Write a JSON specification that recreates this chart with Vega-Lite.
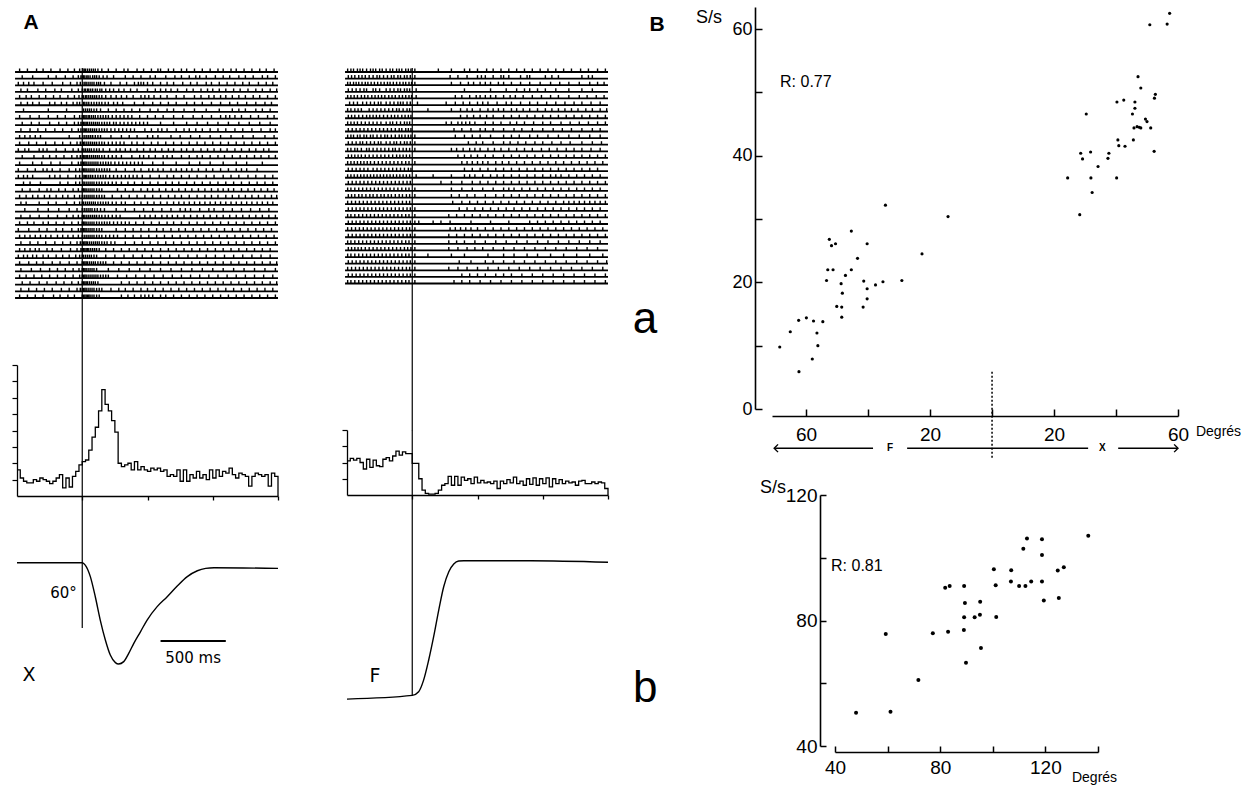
{
"$schema": "https://vega.github.io/schema/vega-lite/v6.json",
"width": 1242,
"height": 789,
"autosize": {"type": "none"},
"padding": 0,
"background": "white",
"config": {
  "view": {"stroke": null},
  "font": "Liberation Sans",
  "axis": {"grid": false, "domainColor": "black", "tickColor": "black", "labelColor": "black", "labelFont": "Liberation Sans", "labelFlush": false, "labelOverlap": false}
},
"data": {"values": [{}]},
"datasets": {
  "rasterX": [
    {"trial":1,"t":[-480,-420,-350,-300,-240,-170,-110,-60,-20,5,15,25,40,55,70,85,100,120,150,200,260,320,350,420,470,530,580,600,660,700,760,800,860,920,980,1040,1080,1140,1180,1240,1300,1360,1410,1470]},
    {"trial":2,"t":[-460,-380,-260,-200,-130,-70,-30,-10,0,10,20,35,45,60,80,95,110,130,160,190,240,330,390,450,520,560,640,710,760,820,870,900,950,1020,1080,1130,1200,1250,1310,1380,1420,1480]},
    {"trial":3,"t":[-490,-450,-410,-370,-300,-230,-150,-90,-40,-15,5,20,30,45,60,75,90,110,125,140,170,220,290,340,400,430,450,470,500,540,600,650,700,770,830,880,950,990,1050,1110,1170,1230,1280,1350,1410,1460]},
    {"trial":4,"t":[-470,-420,-340,-280,-210,-160,-80,-30,0,15,25,40,50,65,80,100,115,135,150,180,210,240,280,320,370,420,500,560,600,640,680,730,800,850,910,960,1000,1050,1100,1160,1210,1270,1330,1380,1440,1490]},
    {"trial":5,"t":[-480,-430,-390,-330,-280,-220,-170,-110,-60,-25,0,10,25,35,50,65,80,95,110,130,150,180,220,260,300,340,390,450,480,510,550,600,650,720,780,860,910,970,1010,1060,1100,1150,1200,1250,1310,1360,1420,1480]},
    {"trial":6,"t":[-470,-420,-380,-330,-250,-210,-160,-120,-70,-40,-20,10,20,35,50,70,90,110,130,150,175,200,240,270,310,400,470,540,600,660,720,800,860,920,990,1060,1130,1190,1260,1330,1400,1450]},
    {"trial":7,"t":[-450,-260,-120,10,25,40,55,70,90,110,140,200,260,320,380,440,520,580,650,700,780,860,950,1050,1150,1200,1250,1330,1380,1440]},
    {"trial":8,"t":[-480,-400,-330,-260,-190,-130,-60,-20,0,10,20,30,45,55,70,85,100,120,140,160,180,200,230,260,290,320,350,380,440,500,560,620,700,770,850,920,990,1060,1100,1130,1170,1220,1290,1350,1420,1470]},
    {"trial":9,"t":[-460,-390,-330,-250,-180,-120,-60,-30,-10,0,10,20,30,40,55,70,85,100,115,130,150,170,190,210,240,260,290,320,350,380,410,440,470,500,600,700,800,880,960,1040,1120,1200,1280,1360,1440]},
    {"trial":10,"t":[-470,-400,-340,-280,-210,-150,-80,-30,-10,5,15,25,35,50,65,80,95,110,130,150,170,190,220,250,280,310,340,370,400,480,530,580,610,650,720,780,820,870,920,980,1040,1100,1170,1230,1300,1370,1440,1480]},
    {"trial":11,"t":[-480,-440,-400,-360,-320,-100,-20,5,20,35,50,65,80,100,120,140,220,300,360,420,500,540,580,680,750,830,900,980,1060,1140,1230,1310,1400,1470]},
    {"trial":12,"t":[-480,-410,-350,-280,-210,-150,-90,-40,-15,0,10,20,35,50,65,80,95,110,130,150,170,200,230,260,290,320,380,420,470,530,580,640,700,760,820,880,940,1000,1060,1120,1180,1240,1300,1360,1420,1480]},
    {"trial":13,"t":[-490,-440,-410,-330,-300,-270,-200,-130,-70,-30,0,12,25,40,55,70,90,110,130,160,210,260,290,330,370,420,470,520,560,610,660,700,760,800,850,910,960,1010,1060,1110,1170,1220,1280,1330,1390,1430]},
    {"trial":14,"t":[-460,-370,-300,-250,-200,-140,-80,-40,-15,0,10,20,30,40,55,70,85,100,115,130,150,170,200,230,260,300,380,440,470,510,560,620,650,690,760,820,880,920,980,1040,1090,1150,1210,1260,1320,1370,1430,1480]},
    {"trial":15,"t":[-480,-380,-310,-240,-170,-80,-30,-10,0,10,20,30,45,60,75,90,105,120,140,160,180,200,220,250,280,310,340,370,400,430,460,540,620,720,820,900,980,1080,1180,1260,1380]},
    {"trial":16,"t":[-490,-420,-360,-300,-270,-230,-170,-100,-50,-20,0,10,20,30,45,60,75,90,110,130,150,170,190,210,260,330,400,450,510,540,580,620,680,720,760,800,840,890,950,1000,1060,1120,1180,1220,1260,1340]},
    {"trial":17,"t":[-490,-450,-420,-380,-250,-210,-170,-110,-50,-20,5,15,25,35,50,65,80,100,120,140,160,180,210,240,270,300,330,360,390,420,460,520,590,650,700,760,820,880,950,1010,1080,1140,1200,1270,1330,1400,1460]},
    {"trial":18,"t":[-450,-400,-320,-170,-110,-50,-20,5,15,30,45,60,75,90,110,130,150,175,200,230,260,300,350,400,460,520,580,640,690,740,800,860,920,980,1040,1100,1160,1220,1280,1340,1400,1460]},
    {"trial":19,"t":[-460,-400,-330,-270,-240,-180,-130,-70,-30,0,10,20,30,45,60,75,90,110,130,150,270,330,390,450,500,540,590,640,690,740,790,840,890,940,990,1040,1080,1120,1160,1220,1270,1320,1370,1420,1470]},
    {"trial":20,"t":[-480,-430,-380,-340,-290,-250,-200,-150,-110,-60,-20,0,15,30,45,60,75,90,110,130,150,170,230,300,360,420,480,540,600,660,710,760,820,880,940,990,1040,1100,1150,1200,1250,1300,1350,1400,1450,1490]},
    {"trial":21,"t":[-470,-430,-330,-260,-200,-120,-60,-20,0,10,25,40,55,70,85,100,120,140,160,180,200,230,260,300,330,400,450,500,550,600,650,700,740,780,820,860,900,940,980,1020,1060,1100,1140,1180,1220,1260,1300,1340,1380,1420,1460]},
    {"trial":22,"t":[-440,-340,-260,-180,-100,-40,0,15,30,45,60,75,95,115,140,170,260,330,400,470,540,610,680,750,790,830,900,970,1010,1080,1150,1220,1290,1360,1430]},
    {"trial":23,"t":[-470,-400,-330,-260,-190,-120,-70,-30,0,10,20,35,50,65,80,95,110,130,150,175,200,230,260,290,440,480,520,560,610,650,690,730,780,830,880,930,980,1030,1080,1130,1180,1230,1280,1330,1380,1430,1480]},
    {"trial":24,"t":[-480,-420,-370,-300,-260,-200,-140,-80,-30,0,10,20,30,45,60,75,90,110,130,150,170,190,210,240,270,300,330,360,410,470,530,590,650,700,760,820,880,940,1000,1060,1120,1180,1240,1300,1360,1420,1480]},
    {"trial":25,"t":[-490,-410,-330,-270,-200,-150,-80,-30,-10,0,10,20,30,45,60,75,90,110,130,150,260,330,390,450,510,570,620,680,740,790,850,910,970,1030,1090,1150,1210,1270,1330,1390,1450]},
    {"trial":26,"t":[-480,-440,-400,-360,-320,-280,-240,-190,-150,-110,-70,-30,0,15,30,45,60,75,90,110,130,150,180,210,240,270,330,390,450,510,570,630,690,750,810,870,930,990,1050,1110,1170,1230,1290,1350,1410,1470]},
    {"trial":27,"t":[-470,-400,-340,-280,-210,-150,-90,-40,-15,0,10,20,30,40,55,70,85,100,115,130,150,170,190,220,250,330,400,460,520,580,640,700,760,820,880,940,1000,1060,1120,1180,1240,1300,1360,1420,1480]},
    {"trial":28,"t":[-480,-440,-400,-360,-330,-270,-230,-160,-90,-40,-10,0,10,20,30,40,50,65,80,95,110,130,180,240,300,360,420,480,540,600,660,720,780,840,900,960,1020,1080,1140,1200,1260,1320,1380,1440]},
    {"trial":29,"t":[-490,-450,-420,-380,-350,-300,-260,-200,-150,-100,-50,-20,0,10,25,40,55,70,90,110,180,250,320,390,460,530,600,670,740,810,880,950,1020,1090,1160,1230,1300,1370,1440]},
    {"trial":30,"t":[-480,-410,-350,-300,-230,-170,-100,-40,0,10,20,30,40,55,70,85,100,120,140,160,180,240,300,360,420,480,540,600,660,720,780,840,900,960,1020,1080,1140,1200,1260,1320,1380,1440,1490]},
    {"trial":31,"t":[-470,-390,-320,-250,-190,-130,-70,-25,0,10,20,30,45,60,75,90,110,200,280,360,440,520,600,680,760,840,920,1000,1080,1160,1240,1320,1400,1480]},
    {"trial":32,"t":[-480,-430,-370,-310,-250,-190,-130,-70,-20,0,10,20,30,45,60,75,90,105,120,140,160,180,200,270,340,410,480,550,620,690,760,830,900,970,1040,1110,1180,1250,1320,1390,1460]},
    {"trial":33,"t":[-460,-400,-330,-270,-200,-140,-80,-30,0,10,20,30,40,55,70,85,100,120,300,360,420,480,540,600,660,720,780,840,900,960,1020,1080,1140,1200,1260,1320,1380,1440,1490]},
    {"trial":34,"t":[-470,-410,-350,-290,-230,-160,-100,-40,-15,0,10,20,30,45,60,75,90,110,130,150,220,280,330,390,450,500,560,620,680,740,800,860,920,980,1040,1100,1160,1220,1280,1340,1400,1460]},
    {"trial":35,"t":[-480,-420,-360,-300,-220,-170,-110,-60,0,10,20,30,40,50,60,75,90,110,130,300,350,400,450,480,510,540,600,640,700,760,820,880,940,1000,1060,1120,1180,1240,1300,1360,1420,1480]}
  ],
  "rasterF": [
    {"trial":1,"t":[-495,-470,-450,-420,-400,-380,-350,-320,-300,-280,-250,-230,-200,-170,-150,-120,-100,-80,-50,-30,-10,20,200,300,400,440,500,570,620,680,740,800,860,920,980,1040,1100,1160,1220,1290,1350,1420,1480]},
    {"trial":2,"t":[-490,-465,-440,-410,-385,-360,-330,-300,-270,-250,-220,-190,-160,-140,-110,-90,-60,-40,-15,20,290,350,420,500,530,560,620,680,700,740,830,880,900,1020,1070,1120,1300,1350,1380]},
    {"trial":3,"t":[-495,-475,-450,-430,-410,-385,-360,-340,-315,-290,-265,-240,-215,-190,-170,-145,-120,-95,-70,-50,-25,-5,20,300,370,430,470,520,560,600,660,700,760,830,900,980,1060,1130,1200,1280,1360,1420,1470]},
    {"trial":4,"t":[-490,-460,-430,-400,-370,-350,-300,-280,-250,-200,-170,-140,-110,-90,-60,-40,-20,30,400,600,720,800,860,900,960,1020,1100,1200,1300,1380]},
    {"trial":5,"t":[-495,-470,-445,-420,-390,-365,-340,-310,-285,-260,-235,-210,-180,-155,-130,-100,-75,-50,-25,-5,30,330,380,440,490,520,560,600,640,700,750,790,850,920,990,1060,1120,1200,1280,1340,1410,1470]},
    {"trial":6,"t":[-480,-450,-420,-380,-350,-320,-290,-260,-240,-200,-170,-140,-110,-90,-70,-40,-15,40,260,330,390,440,500,540,580,650,720,760,830,900,960,1030,1100,1170,1240,1300,1370,1440]},
    {"trial":7,"t":[-495,-470,-440,-415,-390,-330,-300,-270,-240,-210,-180,-150,-120,-100,-70,-40,-20,120,300,370,420,460,520,580,620,660,700,760,800,850,900,960,1020,1070,1120,1170,1220,1270,1330,1380,1440,1490]},
    {"trial":8,"t":[-490,-465,-440,-410,-380,-350,-325,-300,-275,-250,-220,-190,-160,-135,-110,-80,-55,-30,-10,370,420,470,520,570,620,700,760,820,880,940,1000,1060,1120,1180,1240,1300,1360,1420,1480]},
    {"trial":9,"t":[-495,-470,-445,-420,-390,-360,-330,-300,-270,-240,-200,-170,-150,-120,-90,-60,-40,-20,260,300,350,380,410,440,480,560,620,680,750,800,860,930,1000,1060,1140,1210,1280,1350,1420,1480]},
    {"trial":10,"t":[-490,-460,-430,-400,-370,-340,-310,-280,-250,-220,-190,-160,-130,-100,-80,-50,-30,-10,320,380,450,520,560,620,700,780,840,920,1000,1080,1150,1220,1300,1380,1440]},
    {"trial":11,"t":[-495,-470,-450,-420,-400,-370,-350,-320,-300,-270,-240,-210,-190,-160,-130,-100,-80,-55,-30,-10,20,330,400,460,520,600,700,760,820,900,960,1040,1120,1200,1280,1360,1440]},
    {"trial":12,"t":[-490,-460,-430,-400,-380,-350,-320,-290,-260,-240,-200,-170,-140,-120,-90,-60,-40,-15,20,430,490,540,620,700,750,810,870,940,1000,1070,1140,1210,1300,1380,1450]},
    {"trial":13,"t":[-495,-470,-440,-420,-390,-350,-330,-300,-270,-240,-210,-180,-150,-130,-100,-70,-45,-20,20,300,340,390,440,480,520,580,630,680,740,800,860,920,990,1050,1110,1180,1240,1300,1370,1440]},
    {"trial":14,"t":[-490,-465,-440,-415,-390,-360,-330,-300,-270,-240,-210,-180,-150,-120,-95,-70,-45,-20,350,400,450,500,560,620,700,760,820,880,940,1000,1060,1120,1180,1240,1300,1360,1420,1480]},
    {"trial":15,"t":[-495,-470,-445,-420,-395,-370,-345,-320,-290,-260,-230,-200,-170,-140,-110,-80,-50,-25,20,380,420,460,500,540,580,640,690,740,800,860,920,980,1040,1100,1160,1220,1280,1340,1400,1460]},
    {"trial":16,"t":[-490,-460,-430,-400,-370,-340,-300,-270,-240,-210,-180,-150,-120,-90,-60,-30,-10,400,460,520,580,640,700,760,820,880,940,1000,1060,1120,1180,1240,1300,1360,1420]},
    {"trial":17,"t":[-495,-470,-445,-420,-395,-370,-345,-320,-295,-270,-245,-220,-195,-170,-145,-120,-95,-70,-45,-20,30,160,300,400,440,480,540,600,650,700,760,820,880,940,1000,1060,1100,1140,1200,1260,1320,1380,1440]},
    {"trial":18,"t":[-490,-460,-430,-400,-370,-340,-310,-280,-250,-220,-190,-160,-130,-100,-70,-40,-15,220,300,380,460,520,580,640,700,760,820,880,940,1000,1060,1120,1180,1240,1300,1360,1420,1480]},
    {"trial":19,"t":[-495,-470,-440,-410,-380,-350,-320,-290,-260,-230,-200,-170,-140,-110,-80,-50,-25,20,300,380,460,540,620,700,740,780,840,900,960,1020,1080,1140,1200,1260,1320,1380,1440]},
    {"trial":20,"t":[-490,-465,-440,-410,-385,-355,-325,-300,-270,-240,-215,-185,-160,-130,-100,-75,-45,-20,20,300,360,420,480,560,640,700,760,820,880,940,1000,1060,1120,1180,1240,1300,1360,1420,1480]},
    {"trial":21,"t":[-495,-465,-435,-405,-375,-345,-315,-285,-255,-225,-195,-165,-135,-105,-75,-45,-20,310,380,440,500,560,620,680,740,800,860,920,980,1040,1100,1160,1200,1240,1280,1320,1360,1400,1440,1480]},
    {"trial":22,"t":[-490,-460,-430,-400,-370,-340,-310,-280,-250,-220,-190,-160,-130,-100,-70,-40,-15,20,360,420,480,540,600,660,720,780,840,900,960,1020,1080,1140,1200,1260,1320,1380,1440]},
    {"trial":23,"t":[-495,-470,-440,-410,-380,-350,-320,-290,-260,-230,-200,-170,-140,-110,-80,-50,-25,20,280,340,400,460,520,580,640,700,760,820,880,940,1000,1060,1120,1180,1240,1300,1360,1420,1480]},
    {"trial":24,"t":[-490,-460,-430,-400,-370,-340,-310,-280,-250,-220,-190,-160,-130,-100,-70,-40,-15,20,50,160,220,290,450,600,740,900,960,1020,1080,1140,1200,1260,1320,1380,1440]},
    {"trial":25,"t":[-495,-465,-435,-405,-375,-345,-315,-285,-255,-225,-195,-165,-135,-105,-75,-45,-20,20,290,330,370,410,450,500,560,620,680,740,800,860,920,980,1040,1100,1160,1220,1280,1340,1400,1460]},
    {"trial":26,"t":[-490,-460,-430,-400,-370,-340,-310,-280,-250,-220,-190,-160,-130,-100,-70,-40,-15,20,280,340,400,460,520,580,640,700,760,820,880,940,1000,1060,1120,1180,1240,1300,1360,1420,1480]},
    {"trial":27,"t":[-495,-470,-440,-410,-380,-350,-320,-290,-260,-230,-200,-170,-140,-110,-80,-50,-25,20,280,340,400,480,560,640,720,800,880,960,1040,1120,1200,1280,1360,1440]},
    {"trial":28,"t":[-490,-465,-440,-415,-390,-360,-330,-300,-270,-240,-210,-180,-150,-120,-90,-60,-35,-10,20,280,350,420,480,540,620,700,780,860,940,1020,1100,1180,1260,1340,1420]},
    {"trial":29,"t":[-495,-470,-440,-410,-380,-350,-320,-290,-260,-230,-200,-170,-140,-110,-80,-50,-25,20,120,300,400,580,700,780,880,960,1060,1160,1260,1360,1460]},
    {"trial":30,"t":[-490,-460,-430,-400,-370,-340,-310,-280,-250,-220,-190,-160,-130,-100,-70,-40,-15,20,360,450,560,620,700,780,860,940,1020,1100,1180,1260,1340,1420,1490]},
    {"trial":31,"t":[-495,-465,-435,-405,-375,-345,-315,-285,-255,-225,-195,-165,-135,-105,-75,-45,-20,20,280,350,420,500,580,660,740,820,900,980,1060,1140,1220,1300,1380,1460]},
    {"trial":32,"t":[-490,-460,-430,-400,-370,-340,-310,-280,-250,-220,-190,-160,-130,-100,-70,-40,-15,20,380,440,500,560,640,700,760,840,920,1000,1080,1160,1240,1320,1400,1480]},
    {"trial":33,"t":[-495,-470,-440,-410,-380,-350,-320,-290,-260,-230,-200,-170,-140,-110,-80,-50,-25,20,320,380,440,520,600,680,760,840,920,1000,1080,1160,1240,1320,1400,1480]}
  ],
  "histX": [
    {"t":-500,"v":1.6},{"t":-475,"v":1.1},{"t":-450,"v":0.9},{"t":-425,"v":0.8},{"t":-400,"v":0.8},{"t":-375,"v":1.0},{"t":-350,"v":0.9},{"t":-325,"v":1.1},{"t":-300,"v":1.0},{"t":-275,"v":0.9},
    {"t":-250,"v":0.75},{"t":-225,"v":0.9},{"t":-200,"v":1.1},{"t":-175,"v":1.3},{"t":-150,"v":0.5},{"t":-125,"v":1.1},{"t":-100,"v":0.55},{"t":-75,"v":1.2},{"t":-50,"v":1.5},{"t":-25,"v":1.9},
    {"t":0,"v":2.1},{"t":25,"v":2.2},{"t":50,"v":2.8},{"t":75,"v":3.6},{"t":100,"v":4.2},{"t":125,"v":5.2},{"t":150,"v":6.5},{"t":175,"v":5.6},{"t":200,"v":5.2},{"t":225,"v":4.6},
    {"t":250,"v":3.9},{"t":275,"v":2.0},{"t":300,"v":1.8},{"t":325,"v":1.9},{"t":350,"v":2.0},{"t":375,"v":1.6},{"t":400,"v":2.1},{"t":425,"v":1.6},{"t":450,"v":1.8},{"t":475,"v":1.6},
    {"t":500,"v":1.5},{"t":525,"v":1.7},{"t":550,"v":1.6},{"t":575,"v":1.7},{"t":600,"v":1.5},{"t":625,"v":1.6},{"t":650,"v":1.2},{"t":675,"v":1.3},{"t":700,"v":1.2},{"t":725,"v":1.6},
    {"t":750,"v":0.9},{"t":775,"v":1.6},{"t":800,"v":0.9},{"t":825,"v":1.3},{"t":850,"v":1.1},{"t":875,"v":1.5},{"t":900,"v":1.1},{"t":925,"v":1.3},{"t":950,"v":1.0},{"t":975,"v":1.6},
    {"t":1000,"v":1.1},{"t":1025,"v":1.6},{"t":1050,"v":1.2},{"t":1075,"v":1.5},{"t":1100,"v":1.4},{"t":1125,"v":1.7},{"t":1150,"v":1.3},{"t":1175,"v":1.1},{"t":1200,"v":1.4},{"t":1225,"v":1.3},
    {"t":1250,"v":1.2},{"t":1275,"v":0.6},{"t":1300,"v":1.2},{"t":1325,"v":1.4},{"t":1350,"v":1.3},{"t":1375,"v":1.2},{"t":1400,"v":1.3},{"t":1425,"v":0.6},{"t":1450,"v":1.4},{"t":1475,"v":1.2},
    {"t":1500,"v":0}
  ],
  "histF": [
    {"t":-500,"v":2.1},{"t":-475,"v":2.25},{"t":-450,"v":2.15},{"t":-425,"v":2.25},{"t":-400,"v":2.0},{"t":-375,"v":1.6},{"t":-350,"v":2.2},{"t":-325,"v":1.7},{"t":-300,"v":2.15},{"t":-275,"v":1.8},
    {"t":-250,"v":1.75},{"t":-225,"v":2.2},{"t":-200,"v":2.3},{"t":-175,"v":2.1},{"t":-150,"v":2.4},{"t":-125,"v":2.7},{"t":-100,"v":2.45},{"t":-75,"v":2.65},{"t":-50,"v":2.55},{"t":-25,"v":2.55},
    {"t":0,"v":1.95},{"t":25,"v":1.95},{"t":50,"v":1.0},{"t":75,"v":0.3},{"t":100,"v":0.1},{"t":125,"v":0.05},{"t":150,"v":0.05},{"t":175,"v":0.1},{"t":200,"v":0.3},{"t":225,"v":0.6},
    {"t":250,"v":0.7},{"t":275,"v":1.15},{"t":300,"v":0.6},{"t":325,"v":1.15},{"t":350,"v":0.6},{"t":375,"v":1.1},{"t":400,"v":0.9},{"t":425,"v":1.0},{"t":450,"v":0.7},{"t":475,"v":1.1},
    {"t":500,"v":0.75},{"t":525,"v":0.9},{"t":550,"v":0.75},{"t":575,"v":0.8},{"t":600,"v":0.7},{"t":625,"v":0.85},{"t":650,"v":0.4},{"t":675,"v":0.85},{"t":700,"v":0.7},{"t":725,"v":0.95},
    {"t":750,"v":0.75},{"t":775,"v":1.1},{"t":800,"v":0.7},{"t":825,"v":0.85},{"t":850,"v":0.6},{"t":875,"v":1.0},{"t":900,"v":0.65},{"t":925,"v":1.05},{"t":950,"v":0.6},{"t":975,"v":1.0},
    {"t":1000,"v":0.7},{"t":1025,"v":1.05},{"t":1050,"v":0.5},{"t":1075,"v":1.0},{"t":1100,"v":0.7},{"t":1125,"v":0.95},{"t":1150,"v":0.7},{"t":1175,"v":0.85},{"t":1200,"v":0.75},{"t":1225,"v":0.8},
    {"t":1250,"v":0.6},{"t":1275,"v":0.85},{"t":1300,"v":0.9},{"t":1325,"v":0.7},{"t":1350,"v":0.7},{"t":1375,"v":0.8},{"t":1400,"v":0.7},{"t":1425,"v":0.8},{"t":1450,"v":0.75},{"t":1475,"v":0.4},
    {"t":1500,"v":0}
  ],
  "traceX": [
    {"t":-500,"pos":0},{"t":0,"pos":0},{"t":23,"pos":-1.4},{"t":62,"pos":-8.3},{"t":100,"pos":-20.3},{"t":138,"pos":-34.2},{"t":177,"pos":-46.1},{"t":215,"pos":-55.1},{"t":254,"pos":-59.6},{"t":279,"pos":-60.4},
    {"t":318,"pos":-59.0},{"t":356,"pos":-54.1},{"t":395,"pos":-48.1},{"t":446,"pos":-41.2},{"t":497,"pos":-34.2},{"t":574,"pos":-26.2},{"t":651,"pos":-20.3},{"t":728,"pos":-13.9},{"t":805,"pos":-8.3},{"t":882,"pos":-4.8},
    {"t":946,"pos":-3.4},{"t":1010,"pos":-3.0},{"t":1500,"pos":-3.4}
  ],
  "traceF": [
    {"t":-500,"pos":-82.5},{"t":0,"pos":-80.3},{"t":49,"pos":-78.1},{"t":87,"pos":-71.2},{"t":126,"pos":-59.2},{"t":164,"pos":-45.3},{"t":203,"pos":-29.4},{"t":241,"pos":-15.5},{"t":280,"pos":-6.6},{"t":318,"pos":-2.0},
    {"t":356,"pos":-0.2},{"t":395,"pos":0},{"t":908,"pos":0},{"t":1500,"pos":-0.9}
  ],
  "scatA": [
    {"deg":-68.5,"rate":9.8},{"deg":-65.1,"rate":12.2},{"deg":-62.4,"rate":14.0},{"deg":-59.9,"rate":14.4},{"deg":-57.6,"rate":13.9},{"deg":-54.6,"rate":13.8},{"deg":-56.5,"rate":12.0},{"deg":-56.2,"rate":10.0},{"deg":-58.0,"rate":7.9},{"deg":-62.3,"rate":5.9},
    {"deg":-53.4,"rate":20.3},{"deg":-53.0,"rate":22.0},{"deg":-51.3,"rate":22.0},{"deg":-52.5,"rate":26.8},{"deg":-51.8,"rate":25.8},{"deg":-50.5,"rate":26.1},{"deg":-50.1,"rate":16.2},{"deg":-48.5,"rate":16.1},{"deg":-48.5,"rate":14.5},{"deg":-48.3,"rate":18.3},
    {"deg":-48.7,"rate":19.8},{"deg":-47.3,"rate":21.1},{"deg":-45.4,"rate":22.0},{"deg":-45.4,"rate":28.1},{"deg":-43.4,"rate":23.8},{"deg":-40.3,"rate":26.1},{"deg":-41.4,"rate":20.2},{"deg":-40.3,"rate":19.0},{"deg":-40.3,"rate":17.4},{"deg":-41.6,"rate":16.1},
    {"deg":-37.6,"rate":19.6},{"deg":-35.2,"rate":20.1},{"deg":-34.4,"rate":32.2},{"deg":-29.1,"rate":20.3},{"deg":-22.6,"rate":24.5},{"deg":-14.2,"rate":30.4},
    {"deg":24.4,"rate":36.5},{"deg":28.3,"rate":30.7},{"deg":28.6,"rate":40.4},{"deg":29.2,"rate":39.5},{"deg":30.4,"rate":46.6},{"deg":31.8,"rate":40.6},{"deg":31.9,"rate":36.5},{"deg":32.3,"rate":34.2},{"deg":34.2,"rate":38.3},{"deg":37.4,"rate":39.6},
    {"deg":37.7,"rate":40.4},{"deg":40.2,"rate":36.5},{"deg":40.3,"rate":48.5},{"deg":40.6,"rate":42.5},{"deg":40.9,"rate":41.6},{"deg":42.5,"rate":48.8},{"deg":42.9,"rate":41.5},{"deg":45.3,"rate":46.6},{"deg":45.6,"rate":42.5},{"deg":46.1,"rate":48.5},
    {"deg":46.1,"rate":47.5},{"deg":45.8,"rate":44.4},{"deg":46.8,"rate":44.6},{"deg":47.1,"rate":52.5},{"deg":47.5,"rate":44.5},{"deg":48.0,"rate":50.7},{"deg":48.0,"rate":44.4},{"deg":49.5,"rate":45.8},{"deg":50.0,"rate":45.4},{"deg":51.2,"rate":44.4},
    {"deg":52.3,"rate":40.7},{"deg":52.4,"rate":49.1},{"deg":52.7,"rate":49.7},{"deg":50.9,"rate":60.7},{"deg":56.5,"rate":60.8},{"deg":57.3,"rate":62.5}
  ],
  "scatB": [
    {"deg":48.0,"rate":50.6},{"deg":59.3,"rate":75.7},{"deg":61.1,"rate":50.9},{"deg":71.7,"rate":61.0},{"deg":77.2,"rate":75.9},{"deg":81.9,"rate":90.4},{"deg":83.6,"rate":91.0},{"deg":83.0,"rate":76.4},{"deg":89.1,"rate":91.0},{"deg":89.4,"rate":85.6},
    {"deg":89.1,"rate":81.0},{"deg":89.0,"rate":77.0},{"deg":89.8,"rate":66.5},{"deg":93.1,"rate":81.0},{"deg":95.2,"rate":86.0},{"deg":95.1,"rate":81.8},{"deg":95.5,"rate":71.2},{"deg":100.4,"rate":96.3},{"deg":101.1,"rate":91.2},{"deg":101.3,"rate":81.1},
    {"deg":107.0,"rate":96.0},{"deg":106.9,"rate":92.4},{"deg":110.0,"rate":91.0},{"deg":111.6,"rate":102.9},{"deg":112.4,"rate":91.0},{"deg":113.0,"rate":106.1},{"deg":114.6,"rate":92.4},{"deg":118.7,"rate":105.9},{"deg":118.7,"rate":100.9},{"deg":118.7,"rate":92.4},
    {"deg":119.4,"rate":86.4},{"deg":124.7,"rate":95.9},{"deg":125.1,"rate":87.2},{"deg":127.0,"rate":97.0},{"deg":136.3,"rate":107.0}
  ]
},
"resolve": {"scale": {"x": "independent", "y": "independent"}},
"layer": [
  {
    "layer": [
      {"data": {"name": "rasterX"}, "mark": {"type": "rule", "color": "black", "strokeWidth": 1.8},
       "encoding": {"x": {"datum": -515, "type": "quantitative", "scale": {"domain": [-500, 1500], "range": [17, 278], "nice": false, "zero": false}, "axis": null}, "x2": {"datum": 1500},
                    "y": {"field": "trial", "type": "quantitative", "scale": {"domain": [1, 35], "range": [72, 298], "nice": false, "zero": false}, "axis": null}}},
      {"data": {"name": "rasterX"}, "transform": [{"flatten": ["t"]}], "mark": {"type": "tick", "orient": "vertical", "color": "black", "opacity": 1, "size": 3.5, "thickness": 1.4, "yOffset": -1.75},
       "encoding": {"x": {"field": "t", "type": "quantitative", "scale": {"domain": [-500, 1500], "range": [17, 278], "nice": false, "zero": false}, "axis": null},
                    "y": {"field": "trial", "type": "quantitative", "scale": {"domain": [1, 35], "range": [72, 298], "nice": false, "zero": false}, "axis": null}}},
      {"mark": {"type": "rule", "color": "black", "strokeWidth": 1.2},
       "encoding": {"x": {"datum": 0, "type": "quantitative", "scale": {"domain": [-500, 1500], "range": [17, 278], "nice": false, "zero": false}, "axis": null},
                    "y": {"datum": 0.4, "type": "quantitative", "scale": {"domain": [1, 35], "range": [72, 298], "nice": false, "zero": false}, "axis": null}, "y2": {"datum": 45.08}}},
      {"mark": {"type": "text", "text": "A", "fontSize": 21, "fontWeight": "bold", "font": "Liberation Sans", "color": "black", "baseline": "middle", "align": "center"},
       "encoding": {"x": {"datum": -393, "type": "quantitative", "scale": {"domain": [-500, 1500], "range": [17, 278], "nice": false, "zero": false}, "axis": null},
                    "y": {"datum": -6.3, "type": "quantitative", "scale": {"domain": [1, 35], "range": [72, 298], "nice": false, "zero": false}, "axis": null}}}
    ]
  },
  {
    "layer": [
      {"data": {"name": "histX"}, "mark": {"type": "line", "interpolate": "step-after", "color": "black", "strokeWidth": 1.3},
       "encoding": {"x": {"field": "t", "type": "quantitative", "scale": {"domain": [-500, 1500], "range": [17, 278], "nice": false, "zero": false},
                          "axis": {"orient": "bottom", "offset": -293, "values": [0, 500, 1000, 1500], "labels": false, "tickSize": 4, "title": null, "domainWidth": 1.3, "tickWidth": 1.3}},
                    "y": {"field": "v", "type": "quantitative", "scale": {"domain": [0, 8], "range": [496, 365], "nice": false, "zero": false},
                          "axis": {"orient": "left", "offset": -17, "values": [1, 2, 3, 4, 5, 6, 7, 8], "labels": false, "tickSize": 5, "title": null, "domainWidth": 1.3, "tickWidth": 1.2}}}},
      {"mark": {"type": "rule", "color": "black", "strokeWidth": 1.2},
       "encoding": {"x": {"datum": 0, "type": "quantitative", "scale": {"domain": [-500, 1500], "range": [17, 278], "nice": false, "zero": false}},
                    "y": {"datum": 0, "type": "quantitative", "scale": {"domain": [0, 8], "range": [496, 365], "nice": false, "zero": false}}, "y2": {"datum": 8}}}
    ]
  },
  {
    "layer": [
      {"data": {"name": "traceX"}, "mark": {"type": "line", "interpolate": "monotone", "color": "black", "strokeWidth": 1.4},
       "encoding": {"x": {"field": "t", "type": "quantitative", "scale": {"domain": [-500, 1500], "range": [17, 278], "nice": false, "zero": false}, "axis": null},
                    "y": {"field": "pos", "type": "quantitative", "scale": {"domain": [-60, 0], "range": [663.3, 562.7], "nice": false, "zero": false}, "axis": null}}},
      {"mark": {"type": "rule", "color": "black", "strokeWidth": 1.2},
       "encoding": {"x": {"datum": 0, "type": "quantitative", "scale": {"domain": [-500, 1500], "range": [17, 278], "nice": false, "zero": false}, "axis": null},
                    "y": {"datum": 39.8, "type": "quantitative", "scale": {"domain": [-60, 0], "range": [663.3, 562.7], "nice": false, "zero": false}, "axis": null}, "y2": {"datum": -38.9}}},
      {"mark": {"type": "rule", "color": "black", "strokeWidth": 1.8},
       "encoding": {"x": {"datum": 600, "type": "quantitative", "scale": {"domain": [-500, 1500], "range": [17, 278], "nice": false, "zero": false}, "axis": null}, "x2": {"datum": 1100},
                    "y": {"datum": -46.7, "type": "quantitative", "scale": {"domain": [-60, 0], "range": [663.3, 562.7], "nice": false, "zero": false}, "axis": null}}},
      {"mark": {"type": "text", "text": "500 ms", "fontSize": 15, "font": "DejaVu Sans", "color": "black", "baseline": "middle", "align": "center"},
       "encoding": {"x": {"datum": 849, "type": "quantitative", "scale": {"domain": [-500, 1500], "range": [17, 278], "nice": false, "zero": false}, "axis": null},
                    "y": {"datum": -56.8, "type": "quantitative", "scale": {"domain": [-60, 0], "range": [663.3, 562.7], "nice": false, "zero": false}, "axis": null}}},
      {"mark": {"type": "text", "text": "60°", "fontSize": 15, "font": "DejaVu Sans", "color": "black", "baseline": "middle", "align": "center"},
       "encoding": {"x": {"datum": -144, "type": "quantitative", "scale": {"domain": [-500, 1500], "range": [17, 278], "nice": false, "zero": false}, "axis": null},
                    "y": {"datum": -17.9, "type": "quantitative", "scale": {"domain": [-60, 0], "range": [663.3, 562.7], "nice": false, "zero": false}, "axis": null}}},
      {"mark": {"type": "text", "text": "X", "fontSize": 19, "font": "DejaVu Sans", "color": "black", "baseline": "middle", "align": "center"},
       "encoding": {"x": {"datum": -408, "type": "quantitative", "scale": {"domain": [-500, 1500], "range": [17, 278], "nice": false, "zero": false}, "axis": null},
                    "y": {"datum": -67.1, "type": "quantitative", "scale": {"domain": [-60, 0], "range": [663.3, 562.7], "nice": false, "zero": false}, "axis": null}}}
    ]
  },
  {
    "layer": [
      {"data": {"name": "rasterF"}, "mark": {"type": "rule", "color": "black", "strokeWidth": 1.8},
       "encoding": {"x": {"datum": -515, "type": "quantitative", "scale": {"domain": [-500, 1500], "range": [347, 608], "nice": false, "zero": false}, "axis": null}, "x2": {"datum": 1500},
                    "y": {"field": "trial", "type": "quantitative", "scale": {"domain": [1, 33], "range": [72, 283.5], "nice": false, "zero": false}, "axis": null}}},
      {"data": {"name": "rasterF"}, "transform": [{"flatten": ["t"]}], "mark": {"type": "tick", "orient": "vertical", "color": "black", "opacity": 1, "size": 3.5, "thickness": 1.4, "yOffset": -1.75},
       "encoding": {"x": {"field": "t", "type": "quantitative", "scale": {"domain": [-500, 1500], "range": [347, 608], "nice": false, "zero": false}, "axis": null},
                    "y": {"field": "trial", "type": "quantitative", "scale": {"domain": [1, 33], "range": [72, 283.5], "nice": false, "zero": false}, "axis": null}}},
      {"mark": {"type": "rule", "color": "black", "strokeWidth": 1.2},
       "encoding": {"x": {"datum": 0, "type": "quantitative", "scale": {"domain": [-500, 1500], "range": [347, 608], "nice": false, "zero": false}, "axis": null},
                    "y": {"datum": 0.4, "type": "quantitative", "scale": {"domain": [1, 33], "range": [72, 283.5], "nice": false, "zero": false}, "axis": null}, "y2": {"datum": 55.2}}}
    ]
  },
  {
    "layer": [
      {"data": {"name": "histF"}, "mark": {"type": "line", "interpolate": "step-after", "color": "black", "strokeWidth": 1.3},
       "encoding": {"x": {"field": "t", "type": "quantitative", "scale": {"domain": [-500, 1500], "range": [347, 608], "nice": false, "zero": false},
                          "axis": {"orient": "bottom", "offset": -294, "values": [0, 500, 1000, 1500], "labels": false, "tickSize": 4, "title": null, "domainWidth": 1.3, "tickWidth": 1.3}},
                    "y": {"field": "v", "type": "quantitative", "scale": {"domain": [0, 4], "range": [495, 430], "nice": false, "zero": false},
                          "axis": {"orient": "left", "offset": -347, "values": [1, 2, 3, 4], "labels": false, "tickSize": 5, "title": null, "domainWidth": 1.3, "tickWidth": 1.2}}}},
      {"mark": {"type": "rule", "color": "black", "strokeWidth": 1.2},
       "encoding": {"x": {"datum": 0, "type": "quantitative", "scale": {"domain": [-500, 1500], "range": [347, 608], "nice": false, "zero": false}},
                    "y": {"datum": 0, "type": "quantitative", "scale": {"domain": [0, 4], "range": [495, 430], "nice": false, "zero": false}}, "y2": {"datum": 4}}}
    ]
  },
  {
    "layer": [
      {"data": {"name": "traceF"}, "mark": {"type": "line", "interpolate": "monotone", "color": "black", "strokeWidth": 1.4},
       "encoding": {"x": {"field": "t", "type": "quantitative", "scale": {"domain": [-500, 1500], "range": [347, 608], "nice": false, "zero": false}, "axis": null},
                    "y": {"field": "pos", "type": "quantitative", "scale": {"domain": [-80, 0], "range": [694.9, 560.7], "nice": false, "zero": false}, "axis": null}}},
      {"mark": {"type": "rule", "color": "black", "strokeWidth": 1.2},
       "encoding": {"x": {"datum": 0, "type": "quantitative", "scale": {"domain": [-500, 1500], "range": [347, 608], "nice": false, "zero": false}, "axis": null},
                    "y": {"datum": 39.2, "type": "quantitative", "scale": {"domain": [-80, 0], "range": [694.9, 560.7], "nice": false, "zero": false}, "axis": null}, "y2": {"datum": -80.3}}},
      {"mark": {"type": "text", "text": "F", "fontSize": 19, "font": "DejaVu Sans", "color": "black", "baseline": "middle", "align": "center"},
       "encoding": {"x": {"datum": -285, "type": "quantitative", "scale": {"domain": [-500, 1500], "range": [347, 608], "nice": false, "zero": false}, "axis": null},
                    "y": {"datum": -68.8, "type": "quantitative", "scale": {"domain": [-80, 0], "range": [694.9, 560.7], "nice": false, "zero": false}, "axis": null}}}
    ]
  },
  {
    "layer": [
      {"data": {"name": "scatA"}, "mark": {"type": "point", "filled": true, "size": 10, "color": "black", "opacity": 1},
       "encoding": {"x": {"field": "deg", "type": "quantitative", "scale": {"domain": [-71, 60], "range": [772, 1178], "nice": false, "zero": false},
                          "axis": {"orient": "bottom", "offset": -373, "values": [-60, -40, -20, 0, 20, 40, 60], "labelExpr": "abs(datum.value) == 20 || abs(datum.value) == 60 ? '' + abs(datum.value) : ''", "tickSize": -7, "labelPadding": 16, "labelFontSize": 19, "domainWidth": 1.6, "tickWidth": 1.5, "title": null}},
                    "y": {"field": "rate", "type": "quantitative", "scale": {"domain": [0, 63.5], "range": [409, 7], "nice": false, "zero": false},
                          "axis": {"orient": "left", "offset": -755, "values": [0, 10, 20, 30, 40, 50, 60], "labelExpr": "datum.value % 20 == 0 ? datum.label : ''", "tickSize": -7, "labelPadding": 10, "labelFontSize": 18, "domainWidth": 1.6, "tickWidth": 1.5, "title": null}}}},
      {"mark": {"type": "rule", "color": "black", "strokeWidth": 1.5, "strokeDash": [2, 2]},
       "encoding": {"x": {"datum": 0, "type": "quantitative", "scale": {"domain": [-71, 60], "range": [772, 1178], "nice": false, "zero": false}},
                    "y": {"datum": -7.7, "type": "quantitative", "scale": {"domain": [0, 63.5], "range": [409, 7], "nice": false, "zero": false}}, "y2": {"datum": 6.2}}},
      {"mark": {"type": "rule", "color": "black", "strokeWidth": 1.3},
       "encoding": {"x": {"datum": -70, "type": "quantitative", "scale": {"domain": [-71, 60], "range": [772, 1178], "nice": false, "zero": false}}, "x2": {"datum": -38.4},
                    "y": {"datum": -6.2, "type": "quantitative", "scale": {"domain": [0, 63.5], "range": [409, 7], "nice": false, "zero": false}}}},
      {"mark": {"type": "rule", "color": "black", "strokeWidth": 1.3},
       "encoding": {"x": {"datum": -27.4, "type": "quantitative", "scale": {"domain": [-71, 60], "range": [772, 1178], "nice": false, "zero": false}}, "x2": {"datum": 31},
                    "y": {"datum": -6.2, "type": "quantitative", "scale": {"domain": [0, 63.5], "range": [409, 7], "nice": false, "zero": false}}}},
      {"mark": {"type": "rule", "color": "black", "strokeWidth": 1.3},
       "encoding": {"x": {"datum": 40.7, "type": "quantitative", "scale": {"domain": [-71, 60], "range": [772, 1178], "nice": false, "zero": false}}, "x2": {"datum": 59.8},
                    "y": {"datum": -6.2, "type": "quantitative", "scale": {"domain": [0, 63.5], "range": [409, 7], "nice": false, "zero": false}}}},
      {"mark": {"type": "point", "shape": "M1,-1L0,0L1,1", "filled": false, "size": 60, "color": "black", "strokeWidth": 1.4, "opacity": 1},
       "encoding": {"x": {"datum": -70.3, "type": "quantitative", "scale": {"domain": [-71, 60], "range": [772, 1178], "nice": false, "zero": false}},
                    "y": {"datum": -6.2, "type": "quantitative", "scale": {"domain": [0, 63.5], "range": [409, 7], "nice": false, "zero": false}}}},
      {"mark": {"type": "point", "shape": "M-1,-1L0,0L-1,1", "filled": false, "size": 60, "color": "black", "strokeWidth": 1.4, "opacity": 1},
       "encoding": {"x": {"datum": 60, "type": "quantitative", "scale": {"domain": [-71, 60], "range": [772, 1178], "nice": false, "zero": false}},
                    "y": {"datum": -6.2, "type": "quantitative", "scale": {"domain": [0, 63.5], "range": [409, 7], "nice": false, "zero": false}}}},
      {"mark": {"type": "text", "text": "F", "fontSize": 10, "fontWeight": "bold", "color": "black", "baseline": "middle", "align": "center"},
       "encoding": {"x": {"datum": -32.9, "type": "quantitative", "scale": {"domain": [-71, 60], "range": [772, 1178], "nice": false, "zero": false}},
                    "y": {"datum": -6.2, "type": "quantitative", "scale": {"domain": [0, 63.5], "range": [409, 7], "nice": false, "zero": false}}}},
      {"mark": {"type": "text", "text": "X", "fontSize": 10, "fontWeight": "bold", "color": "black", "baseline": "middle", "align": "center"},
       "encoding": {"x": {"datum": 35.6, "type": "quantitative", "scale": {"domain": [-71, 60], "range": [772, 1178], "nice": false, "zero": false}},
                    "y": {"datum": -6.2, "type": "quantitative", "scale": {"domain": [0, 63.5], "range": [409, 7], "nice": false, "zero": false}}}},
      {"mark": {"type": "text", "text": "R: 0.77", "fontSize": 16, "color": "black", "baseline": "middle", "align": "left"},
       "encoding": {"x": {"datum": -68.4, "type": "quantitative", "scale": {"domain": [-71, 60], "range": [772, 1178], "nice": false, "zero": false}},
                    "y": {"datum": 51.6, "type": "quantitative", "scale": {"domain": [0, 63.5], "range": [409, 7], "nice": false, "zero": false}}}},
      {"mark": {"type": "text", "text": "S/s", "fontSize": 18, "color": "black", "baseline": "middle", "align": "center"},
       "encoding": {"x": {"datum": -91.3, "type": "quantitative", "scale": {"domain": [-71, 60], "range": [772, 1178], "nice": false, "zero": false}},
                    "y": {"datum": 61.7, "type": "quantitative", "scale": {"domain": [0, 63.5], "range": [409, 7], "nice": false, "zero": false}}}},
      {"mark": {"type": "text", "text": "Degrés", "fontSize": 14, "color": "black", "baseline": "middle", "align": "left"},
       "encoding": {"x": {"datum": 65.8, "type": "quantitative", "scale": {"domain": [-71, 60], "range": [772, 1178], "nice": false, "zero": false}},
                    "y": {"datum": -3.6, "type": "quantitative", "scale": {"domain": [0, 63.5], "range": [409, 7], "nice": false, "zero": false}}}},
      {"mark": {"type": "text", "text": "B", "fontSize": 21, "fontWeight": "bold", "color": "black", "baseline": "middle", "align": "center"},
       "encoding": {"x": {"datum": -108.1, "type": "quantitative", "scale": {"domain": [-71, 60], "range": [772, 1178], "nice": false, "zero": false}},
                    "y": {"datum": 60.6, "type": "quantitative", "scale": {"domain": [0, 63.5], "range": [409, 7], "nice": false, "zero": false}}}},
      {"mark": {"type": "text", "text": "a", "fontSize": 44, "color": "black", "baseline": "middle", "align": "center"},
       "encoding": {"x": {"datum": -112, "type": "quantitative", "scale": {"domain": [-71, 60], "range": [772, 1178], "nice": false, "zero": false}},
                    "y": {"datum": 14.1, "type": "quantitative", "scale": {"domain": [0, 63.5], "range": [409, 7], "nice": false, "zero": false}}}}
    ]
  },
  {
    "layer": [
      {"data": {"name": "scatB"}, "mark": {"type": "point", "filled": true, "size": 16, "color": "black", "opacity": 1},
       "encoding": {"x": {"field": "deg", "type": "quantitative", "scale": {"domain": [40, 140], "range": [835, 1098], "nice": false, "zero": false},
                          "axis": {"orient": "bottom", "offset": -37, "values": [40, 60, 80, 100, 120, 140], "labelExpr": "datum.value % 40 == 0 ? datum.label : ''", "tickSize": -6, "labelPadding": 12, "labelFontSize": 19, "domainWidth": 1.6, "tickWidth": 1.5, "title": null}},
                    "y": {"field": "rate", "type": "quantitative", "scale": {"domain": [40, 120], "range": [746, 495], "nice": false, "zero": false},
                          "axis": {"orient": "left", "offset": -820, "values": [40, 60, 80, 100, 120], "labelExpr": "datum.value % 40 == 0 ? datum.label : ''", "tickSize": -6, "labelPadding": 9, "labelFontSize": 19, "domainWidth": 1.6, "tickWidth": 1.5, "title": null}}}},
      {"mark": {"type": "text", "text": "S/s", "fontSize": 18, "color": "black", "baseline": "middle", "align": "center"},
       "encoding": {"x": {"datum": 16.4, "type": "quantitative", "scale": {"domain": [40, 140], "range": [835, 1098], "nice": false, "zero": false}},
                    "y": {"datum": 122.2, "type": "quantitative", "scale": {"domain": [40, 120], "range": [746, 495], "nice": false, "zero": false}}}},
      {"mark": {"type": "text", "text": "R: 0.81", "fontSize": 16, "color": "black", "baseline": "middle", "align": "left"},
       "encoding": {"x": {"datum": 38.5, "type": "quantitative", "scale": {"domain": [40, 140], "range": [835, 1098], "nice": false, "zero": false}},
                    "y": {"datum": 97.4, "type": "quantitative", "scale": {"domain": [40, 120], "range": [746, 495], "nice": false, "zero": false}}}},
      {"mark": {"type": "text", "text": "Degrés", "fontSize": 14, "color": "black", "baseline": "middle", "align": "left"},
       "encoding": {"x": {"datum": 130.1, "type": "quantitative", "scale": {"domain": [40, 140], "range": [835, 1098], "nice": false, "zero": false}},
                    "y": {"datum": 29.8, "type": "quantitative", "scale": {"domain": [40, 120], "range": [746, 495], "nice": false, "zero": false}}}},
      {"mark": {"type": "text", "text": "b", "fontSize": 44, "color": "black", "baseline": "middle", "align": "center"},
       "encoding": {"x": {"datum": -32.2, "type": "quantitative", "scale": {"domain": [40, 140], "range": [835, 1098], "nice": false, "zero": false}},
                    "y": {"datum": 58.2, "type": "quantitative", "scale": {"domain": [40, 120], "range": [746, 495], "nice": false, "zero": false}}}}
    ]
  }
]
}
